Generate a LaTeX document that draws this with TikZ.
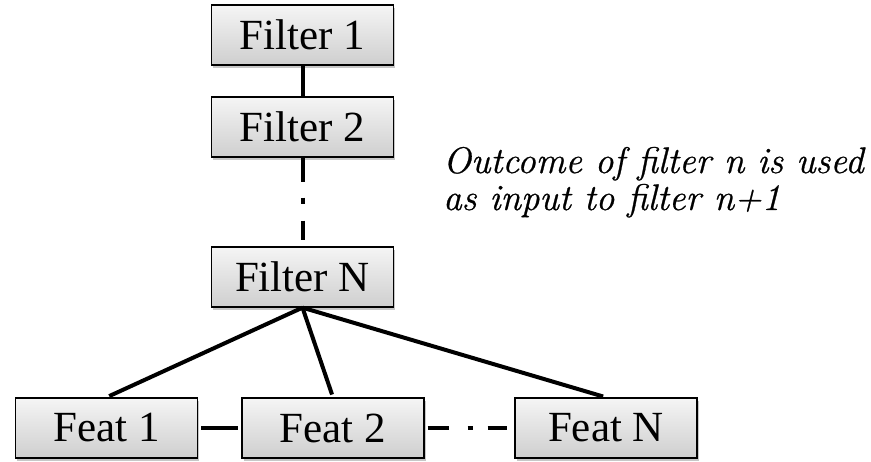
\documentclass[tikz,border=0pt]{standalone}
\usepackage{fontspec}
\setmainfont{Liberation Serif}
\newfontfamily\notefont{Latin Modern Roman}[FakeBold=0.7]
\usetikzlibrary{shadows}
\begin{document}
\begin{tikzpicture}[x=1pt,y=-1pt,
  box/.style={draw=black, line width=1.3pt, minimum width=182pt, minimum height=60pt,
    inner sep=0pt, top color=gray!8, bottom color=gray!38,
    drop shadow={shadow xshift=1.5pt, shadow yshift=-3pt, fill=gray!55, opacity=0.8},
    font=\fontsize{43}{45}\selectfont},
  link/.style={line width=4pt},
  note/.style={anchor=base west, inner sep=0pt, font=\notefont\fontsize{37}{40}\selectfont\itshape}]
  \useasboundingbox (0,0) rectangle (871,462);

  % filter chain
  \node[box] (f1) at (302.5,35) {Filter 1};
  \node[box] (f2) at (302.5,127) {Filter 2};
  \node[box] (fn) at (302.5,277) {Filter N};

  % feature boxes
  \node[box] (c1) at (106.5,428) {Feat 1};
  \node[box] (c2) at (333,428) {Feat 2};
  \node[box] (cn) at (606,428) {Feat N};

  % chain links
  \draw[link] (f1.south) -- (f2.north);
  \draw[link, dash pattern=on 24pt off 16pt on 6pt off 17pt on 40pt, shorten >=6pt]
    (f2.south) -- (fn.north);

  % fan-out from the last filter
  \draw[link, shorten >=3pt] (fn.south) -- (c1.north);
  \draw[link, shorten >=3pt] (fn.south) -- (c2.north);
  \draw[link, shorten >=3pt] (fn.south) -- (cn.north);

  % links between features
  \draw[link, shorten <=3pt, shorten >=3pt] (c1.east) -- (c2.west);
  \draw[link, dash pattern=on 21pt off 19pt on 5pt off 15pt on 40pt, shorten <=3pt, shorten >=7pt]
    (c2.east) -- (cn.west);

  % explanation
  \node[note] (t1) at (443,173) {Outcome of filter n is used};
  \node[note] (t2) at (443,210) {as input to filter n+1};
\end{tikzpicture}
\end{document}
